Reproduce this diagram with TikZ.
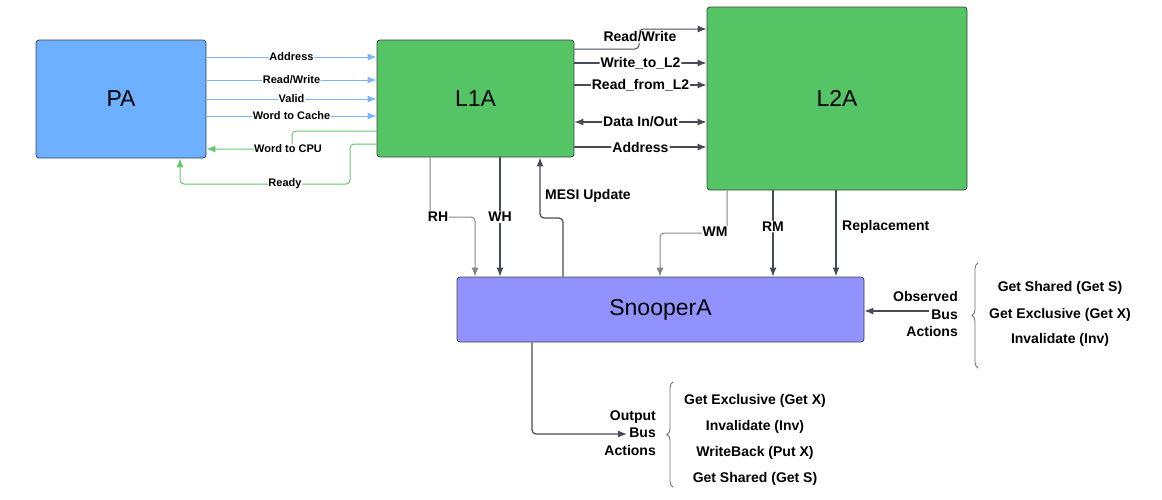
\documentclass[tikz,border=0pt]{standalone}
\usepackage{fontspec}
\setmainfont{Liberation Sans}
\usetikzlibrary{arrows.meta,decorations.pathreplacing}
\definecolor{pablue}{HTML}{6CB0FF}
\definecolor{lgreen}{HTML}{55C464}
\definecolor{snoopc}{HTML}{9292FF}
\definecolor{edgec}{RGB}{60,66,75}
\definecolor{linkblue}{RGB}{120,184,250}
\definecolor{linkgreen}{RGB}{100,200,110}
\definecolor{darkline}{RGB}{70,75,85}
\definecolor{grayline}{RGB}{130,134,140}
\definecolor{bracec}{RGB}{105,110,118}
\begin{document}
\begin{tikzpicture}[x=1pt,y=-1pt,
  box/.style={draw=edgec, rounded corners=3pt, line width=0.8pt, inner sep=0pt, font=\fontsize{23}{27}\selectfont},
  lbl/.style={font=\bfseries\fontsize{11}{13}\selectfont, fill=white, inner sep=0.6pt},
  blbl/.style={font=\bfseries\fontsize{14}{16}\selectfont, fill=white, inner sep=1pt},
  tlbl/.style={font=\bfseries\fontsize{14}{16}\selectfont, inner sep=1pt},
  ilbl/.style={font=\bfseries\fontsize{14}{16}\selectfont, inner sep=1pt},
  tip/.tip={Latex[length=9pt,width=7pt]},
  arr/.style={-tip, rounded corners=4pt},
  bl/.style={arr, draw=linkblue, line width=1pt},
  gr/.style={arr, draw=linkgreen, line width=1pt},
  dk/.style={arr, draw=darkline, line width=1.2pt},
  gy/.style={arr, draw=grayline, line width=1pt},
  brc/.style={draw=bracec, line width=0.8pt, line cap=round, decorate, decoration={brace, amplitude=6pt}},
]
\useasboundingbox (0,0) rectangle (1162,499);

% boxes
\node[box, fill=pablue, minimum width=170pt, minimum height=118pt] (PA) at (121,99) {PA};
\node[box, fill=lgreen, minimum width=197pt, minimum height=117pt] (L1A) at (475.5,98.5) {L1A};
\node[box, fill=lgreen, minimum width=260pt, minimum height=183pt] (L2A) at (837,98.5) {L2A};
\node[box, fill=snoopc, minimum width=407pt, minimum height=65pt] (Snoop) at (660.5,309.5) {SnooperA};

% PA -> L1A
\draw[bl] (PA.east |- 0,57) -- node[lbl] (lad) {Address} (L1A.west |- 0,57);
\draw[bl] (PA.east |- 0,80) -- node[lbl] (lrw) {Read/Write} (L1A.west |- 0,80);
\draw[bl] (PA.east |- 0,99) -- node[lbl] (lva) {Valid} (L1A.west |- 0,99);
\draw[bl] (PA.east |- 0,116) -- node[lbl] (lwc) {Word to Cache} (L1A.west |- 0,116);

% L1A -> PA
\draw[gr] (L1A.west |- 0,131) -- (292,131) -- (292,149) -- (PA.east |- 0,149);
\node[lbl] (lwcpu) at (288,149) {Word to CPU};
\draw[gr] (L1A.west |- 0,144) -- (350,144) -- (350,184) -- (180,184) -- (PA.south -| 180,0);
\node[lbl] (lready) at (285,184) {Ready};

% L1A -> L2A
\draw[dk, line width=1pt] (L1A.east |- 0,49) -- (639,49) -- (639,29) -- (L2A.west |- 0,29);
\node[blbl] (l2rw) at (640,37) {Read/Write};
\draw[dk] (L1A.east |- 0,63) -- node[blbl] (l2w) {Write\_to\_L2} (L2A.west |- 0,63);
\draw[dk] (L1A.east |- 0,85) -- node[blbl] (l2r) {Read\_from\_L2} (L2A.west |- 0,85);
\draw[dk, tip-tip] (L1A.east |- 0,122) -- node[blbl] (l2d) {Data In/Out} (L2A.west |- 0,122);
\draw[dk] (L1A.east |- 0,147) -- node[blbl] (l2a) {Address} (L2A.west |- 0,147);

% L1A <-> Snooper
\draw[gy] (L1A.south -| 430,0) -- (430,217) -- (475,217) -- (Snoop.north -| 475,0);
\node[blbl] (lrh) at (438,217) {RH};
\draw[dk] (L1A.south -| 500,0) -- node[blbl] (lwh) {WH} (Snoop.north -| 500,0);
\draw[dk] (Snoop.north -| 563,0) -- (563,218) -- (540,218) -- (L1A.south -| 540,0);
\node[tlbl, anchor=west] (lmesi) at (544,196) {MESI Update};

% L2A -> Snooper
\draw[gy] (L2A.south -| 727,0) -- (727,233) -- (660,233) -- (Snoop.north -| 660,0);
\node[blbl] (lwm) at (715,232) {WM};
\draw[dk] (L2A.south -| 773,0) -- node[blbl, pos=0.42] (lrm) {RM} (Snoop.north -| 773,0);
\draw[dk, line width=1.6pt] (L2A.south -| 836,0) -- (Snoop.north -| 836,0);
\node[tlbl, anchor=west] (lrep) at (841,227) {Replacement};

% observed bus actions
\node[tlbl, align=right, anchor=east, font=\bfseries\fontsize{14}{17.5}\selectfont] (lobs) at (959,314) {Observed\\Bus\\Actions};
\coordinate (obsend) at (929,311);
\draw[dk] (obsend) -- (Snoop.east |- obsend);
\draw[brc] (978,368) -- (978,263);
\node[ilbl] (o1) at (1060,288) {Get Shared (Get S)};
\node[ilbl] (o2) at (1060,315) {Get Exclusive (Get X)};
\node[ilbl] (o3) at (1060,340) {Invalidate (Inv)};

% output bus actions
\node[tlbl, align=right, anchor=east, font=\bfseries\fontsize{14}{17.5}\selectfont] (lout) at (657,433) {Output\\Bus\\Actions};
\coordinate (outend) at (627,434);
\draw[dk] (Snoop.south -| 532,0) -- (532,434) -- (outend);
\draw[brc] (673,487) -- (673,382);
\node[ilbl] (p1) at (755,401) {Get Exclusive (Get X)};
\node[ilbl] (p2) at (755,427) {Invalidate (Inv)};
\node[ilbl] (p3) at (755,453) {WriteBack (Put X)};
\node[ilbl] (p4) at (755,479) {Get Shared (Get S)};
\end{tikzpicture}
\end{document}
